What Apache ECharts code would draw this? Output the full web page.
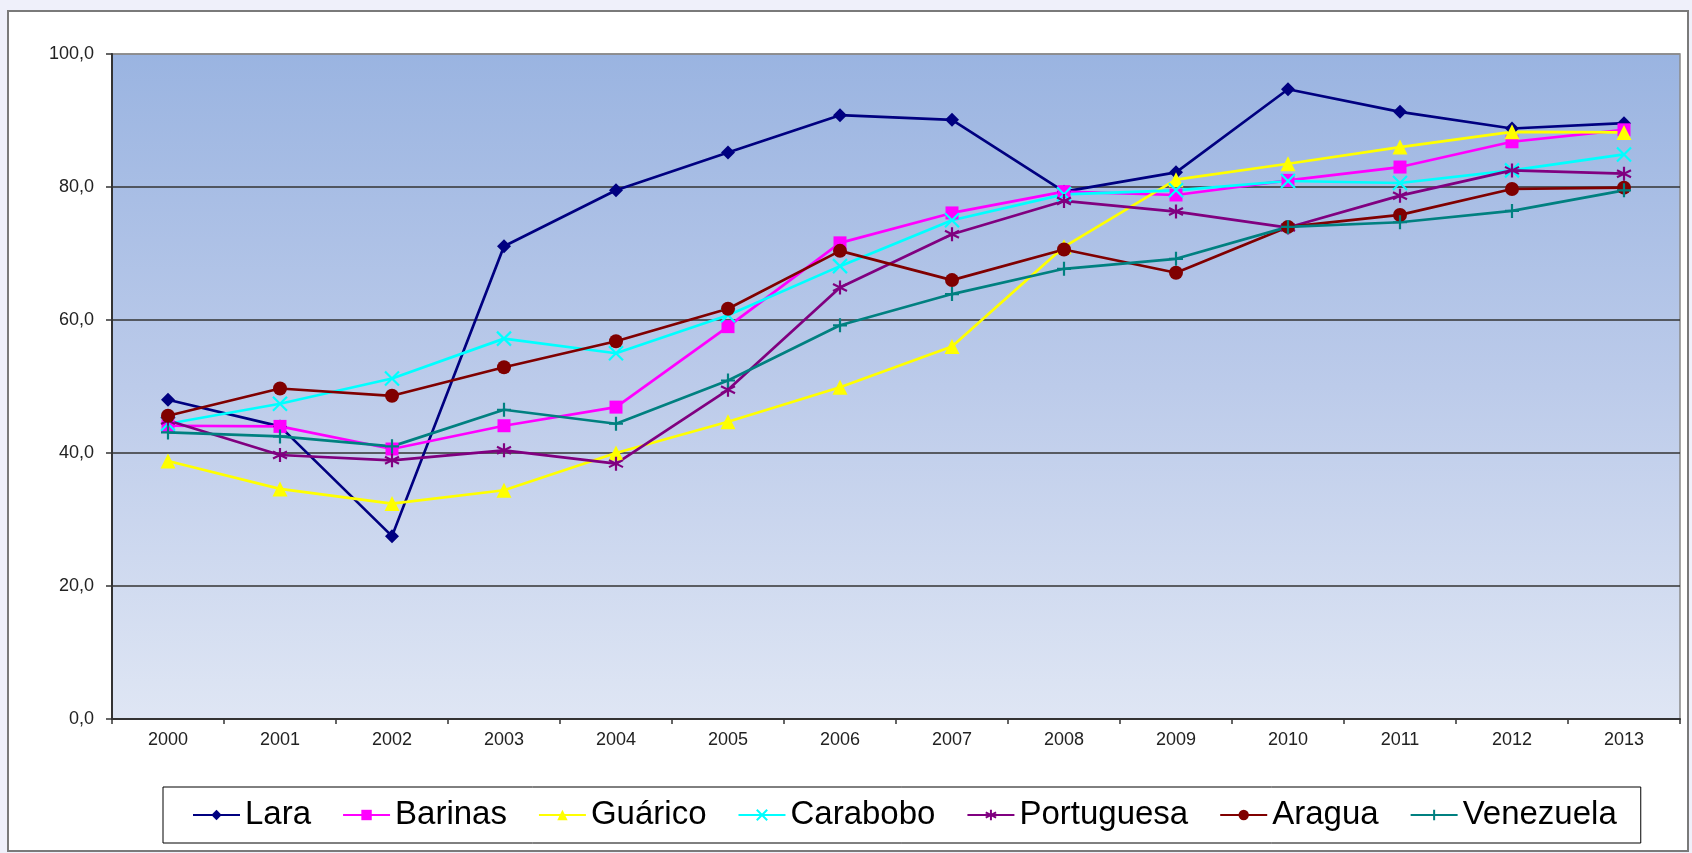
<!DOCTYPE html>
<html>
<head>
<meta charset="utf-8">
<script src="https://cdn.jsdelivr.net/npm/echarts@6/dist/echarts.min.js"></script>
<style>
  html, body { margin: 0; padding: 0; background: #eff0fa; width: 1692px; height: 853px; overflow: hidden; }
  #frame { position: absolute; left: 7px; top: 10px; width: 1678px; height: 838px; background: #ffffff; border: 2px solid #7a7a7a; }
  #chart { position: absolute; left: 0; top: 0; width: 1692px; height: 853px; }
</style>
</head>
<body>
<div id="frame"></div>
<div id="chart"></div>
<script>
const years = ['2000','2001','2002','2003','2004','2005','2006','2007','2008','2009','2010','2011','2012','2013'];
const lara       = [48.0, 44.0, 27.5, 71.1, 79.5, 85.2, 90.8, 90.1, 79.3, 82.2, 94.7, 91.3, 88.8, 89.6];
const barinas    = [44.1, 44.0, 40.6, 44.1, 46.9, 59.0, 71.6, 76.1, 79.3, 78.8, 81.0, 83.0, 86.8, 88.6];
const guarico    = [38.8, 34.6, 32.4, 34.4, 40.0, 44.7, 49.9, 56.0, 71.0, 81.1, 83.5, 86.0, 88.3, 88.2];
const carabobo   = [44.4, 47.4, 51.2, 57.2, 55.0, 60.7, 68.1, 75.0, 78.9, 79.5, 80.9, 80.6, 82.5, 84.9];
const portuguesa = [44.9, 39.7, 38.9, 40.4, 38.4, 49.5, 64.9, 72.9, 77.9, 76.3, 73.9, 78.7, 82.5, 82.0];
const aragua     = [45.6, 49.7, 48.6, 52.9, 56.8, 61.7, 70.4, 66.0, 70.6, 67.1, 74.0, 75.8, 79.7, 79.9];
const venezuela  = [43.1, 42.5, 41.0, 46.5, 44.4, 50.9, 59.2, 63.9, 67.7, 69.2, 74.0, 74.7, 76.4, 79.5];

const names  = ['Lara', 'Barinas', 'Guárico', 'Carabobo', 'Portuguesa', 'Aragua', 'Venezuela'];
const values = [lara, barinas, guarico, carabobo, portuguesa, aragua, venezuela];
const colors = ['#000080', '#ff00ff', '#ffff00', '#00ffff', '#800080', '#800000', '#008080'];

const SYM_X = 'path://M0,0L20,20M20,0L0,20';
const SYM_AST = 'path://M10,0L10,20M1.3,5L18.7,15M18.7,5L1.3,15';
const SYM_PLUS = 'path://M10,0L10,20M0,10L20,10';
const symbols = [
  {symbol: 'diamond', size: 14, stroke: false},
  {symbol: 'rect', size: 13, stroke: false},
  {symbol: 'triangle', size: 15, stroke: false},
  {symbol: SYM_X, size: 14, stroke: true},
  {symbol: SYM_AST, size: 14, stroke: true},
  {symbol: 'circle', size: 14, stroke: false},
  {symbol: SYM_PLUS, size: 14, stroke: true}
];

const FONT = "'Liberation Sans', Arial, sans-serif";

const series = names.map((n, i) => {
  const s = symbols[i];
  return {
    name: n,
    type: 'line',
    data: values[i],
    symbol: s.symbol,
    symbolSize: s.size,
    showSymbol: true,
    lineStyle: { color: colors[i], width: 2.7 },
    itemStyle: s.stroke
      ? { color: 'rgba(0,0,0,0)', borderColor: colors[i], borderWidth: 2.2 }
      : { color: colors[i], borderWidth: 0 },
    emphasis: { disabled: true },
    animation: false
  };
});

const chart = echarts.init(document.getElementById('chart'), null, { renderer: 'canvas' });
chart.setOption({
  backgroundColor: 'transparent',
  animation: false,
  grid: {
    left: 112, right: 12, top: 54, bottom: 134,
    show: true,
    borderColor: '#8a8a8a',
    borderWidth: 1.5,
    backgroundColor: {
      type: 'linear', x: 0, y: 0, x2: 0, y2: 1,
      colorStops: [
        { offset: 0, color: '#9ab4e1' },
        { offset: 0.5, color: '#bccbea' },
        { offset: 1, color: '#dfe6f4' }
      ]
    }
  },
  legend: {
    data: names,
    left: 163,
    top: 787,
    width: 1472,
    padding: [10, 24, 10, 29],
    borderColor: '#000000',
    borderWidth: 1,
    itemWidth: 47,
    itemHeight: 13,
    itemGap: 31,
    selectedMode: false,
    textStyle: { fontFamily: FONT, fontSize: 33, color: '#000000', lineHeight: 36 }
  },
  xAxis: {
    type: 'category',
    data: years,
    boundaryGap: true,
    axisLine: { lineStyle: { color: '#333333', width: 2 } },
    axisTick: { show: true, length: 5, inside: false, alignWithLabel: false, lineStyle: { color: '#333333', width: 1.5 } },
    axisLabel: { fontFamily: FONT, fontSize: 18, color: '#222222', margin: 12 },
    splitLine: { show: false }
  },
  yAxis: {
    type: 'value',
    min: 0, max: 100, interval: 20,
    axisLine: { show: true, lineStyle: { color: '#333333', width: 2 } },
    axisTick: { show: true, length: 6, lineStyle: { color: '#333333', width: 1.5 } },
    axisLabel: {
      fontFamily: FONT, fontSize: 18, color: '#222222', margin: 18,
      formatter: v => v.toFixed(1).replace('.', ',')
    },
    splitLine: { show: true, lineStyle: { color: ['#333333','#333333','#333333','#333333','#333333','#8a8a8a'], width: 1.5 } }
  },
  series: series
});
</script>
</body>
</html>
